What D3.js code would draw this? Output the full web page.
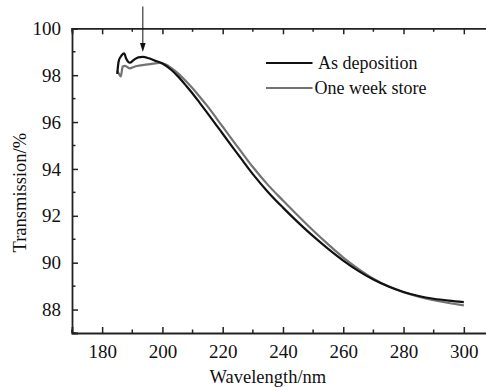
<!DOCTYPE html>
<html>
<head>
<meta charset="utf-8">
<script src="https://cdn.jsdelivr.net/npm/d3@7/dist/d3.min.js"></script>
<style>
  html, body { margin: 0; padding: 0; background: #fff; }
  svg { display: block; }
  svg text { font-family: 'Liberation Serif', 'Times New Roman', Times, 'DejaVu Serif', serif; }
</style>
</head>
<body>
<svg id="chart" width="486" height="387"></svg>
<script>
// wavelength (nm) / transmission (%)
const depWave = [185, 185.5, 186.5, 187.3, 188, 189.2, 190.5, 192, 193.5, 195.5, 197.5, 200, 203, 205, 208, 210, 212.5, 215, 218, 220, 223.5, 226, 230, 235, 240, 245, 250, 255, 260, 265, 270, 275, 280, 285, 290, 295, 300]
const depTrans = [98.05, 98.6, 98.85, 98.93, 98.7, 98.53, 98.65, 98.76, 98.78, 98.72, 98.62, 98.5, 98.22, 97.97, 97.53, 97.22, 96.8, 96.37, 95.85, 95.5, 94.89, 94.46, 93.78, 93.02, 92.35, 91.72, 91.13, 90.59, 90.09, 89.65, 89.28, 88.98, 88.75, 88.58, 88.46, 88.38, 88.32]
const storeWave = [185, 185.6, 186.2, 186.8, 187.6, 189.2, 190.5, 191.5, 194, 196, 199, 201, 203, 205, 208, 210, 212.5, 215, 218, 220, 223.5, 226, 230, 235, 240, 245, 250, 255, 260, 265, 270, 275, 280, 285, 290, 295, 300]
const storeTrans = [98.2, 98.05, 97.95, 98.36, 98.4, 98.29, 98.35, 98.39, 98.44, 98.47, 98.52, 98.47, 98.3, 98.1, 97.72, 97.44, 97.06, 96.67, 96.15, 95.8, 95.19, 94.76, 94.08, 93.32, 92.65, 92.0, 91.37, 90.78, 90.22, 89.74, 89.32, 88.99, 88.74, 88.55, 88.4, 88.28, 88.18]
const seriesNames = ['As deposition', 'One week store']
const xTicks = [180, 200, 220, 240, 260, 280, 300]
const yTicks = [88, 90, 92, 94, 96, 98, 100]
const arrowAt = 193.5 // 箭头所指波长

const serif = "'Liberation Serif', 'Times New Roman', Times, 'DejaVu Serif', serif"
const svg = d3.select('#chart')
const margin = { left: 72, top: 28.3, bottom: 333 }

const x = d3.scaleLinear().domain([170, 310]).range([margin.left, margin.left + 140 * 3.014])
const y = d3.scaleLinear().domain([87, 100]).range([margin.bottom, margin.top])

const axisColor = '#222'

// 坐标轴（刻度朝内）
const minorX = d3.range(170, 311, 10).filter(v => !xTicks.includes(v))
const minorY = d3.range(87, 101, 1).filter(v => !yTicks.includes(v))

const axisB = svg.append('g').attr('transform', `translate(0,${margin.bottom})`)
axisB.call(d3.axisBottom(x).tickValues(xTicks).tickSize(-6).tickPadding(12).tickFormat(d3.format('d')))
const axisT = svg.append('g').attr('transform', `translate(0,${margin.top})`)
axisT.call(d3.axisTop(x).tickValues(xTicks).tickSize(-6).tickFormat(''))
const axisL = svg.append('g').attr('transform', `translate(${margin.left},0)`)
axisL.call(d3.axisLeft(y).tickValues(yTicks).tickSize(-6).tickPadding(11).tickFormat(d3.format('d')))

axisB.selectAll('.minor').data(minorX).enter().append('line').attr('class', 'minor')
  .attr('x1', d => x(d)).attr('x2', d => x(d)).attr('y1', 0).attr('y2', -3.5)
axisT.selectAll('.minor').data(minorX).enter().append('line').attr('class', 'minor')
  .attr('x1', d => x(d)).attr('x2', d => x(d)).attr('y1', 0).attr('y2', 3.5)
axisL.selectAll('.minor').data(minorY).enter().append('line').attr('class', 'minor')
  .attr('y1', d => y(d)).attr('y2', d => y(d)).attr('x1', 0).attr('x2', 3.5)

svg.selectAll('g').attr('font-family', serif)
svg.selectAll('.tick line, .minor')
  .attr('stroke', axisColor).attr('stroke-width', 1.5)
svg.selectAll('.domain').attr('stroke', axisColor).attr('stroke-width', 1.8)
svg.selectAll('.tick text')
  .attr('font-size', 19)
  .attr('fill', '#111')

// 曲线
const line = d3.line()
  .x(d => x(d[0]))
  .y(d => y(d[1]))
  .curve(d3.curveMonotoneX)

const series = [
  { name: seriesNames[0], pts: d3.zip(depWave, depTrans), color: '#111', width: 2.2 },
  { name: seriesNames[1], pts: d3.zip(storeWave, storeTrans), color: '#737373', width: 2.2 }
]

svg.selectAll('.curve').data(series.slice().reverse()).enter().append('path')
  .attr('class', 'curve')
  .attr('fill', 'none')
  .attr('stroke', d => d.color)
  .attr('stroke-width', d => d.width)
  .attr('stroke-linejoin', 'round')
  .attr('d', d => line(d.pts))

// 图例
const legend = svg.append('g')
series.forEach((s, i) => {
  const ly = 63 + i * 25
  legend.append('line')
    .attr('x1', 266).attr('x2', 312.5)
    .attr('y1', ly).attr('y2', ly)
    .attr('stroke', s.color).attr('stroke-width', 2.2)
  legend.append('text')
    .attr('x', i === 0 ? 318 : 314.5)
    .attr('y', ly + 6)
    .attr('font-size', 18)
    .attr('fill', '#111')
    .text(s.name)
})

// 箭头
const ax = x(arrowAt)
svg.append('line')
  .attr('x1', ax).attr('x2', ax).attr('y1', 6.5).attr('y2', 45)
  .attr('stroke', '#111').attr('stroke-width', 1)
svg.append('path')
  .attr('d', `M${ax - 2.8},43 L${ax + 2.8},43 L${ax},52 Z`)
  .attr('fill', '#111')

// 轴标题
svg.append('text')
  .attr('x', x(235)).attr('y', 383)
  .attr('text-anchor', 'middle')
  .attr('font-size', 18.5)
  .attr('fill', '#111')
  .text('Wavelength/nm')
svg.append('text')
  .attr('transform', `translate(26,${(margin.top + margin.bottom) / 2 + 12}) rotate(-90)`)
  .attr('text-anchor', 'middle')
  .attr('font-size', 18.5)
  .attr('fill', '#111')
  .text('Transmission/%')
</script>
</body>
</html>
